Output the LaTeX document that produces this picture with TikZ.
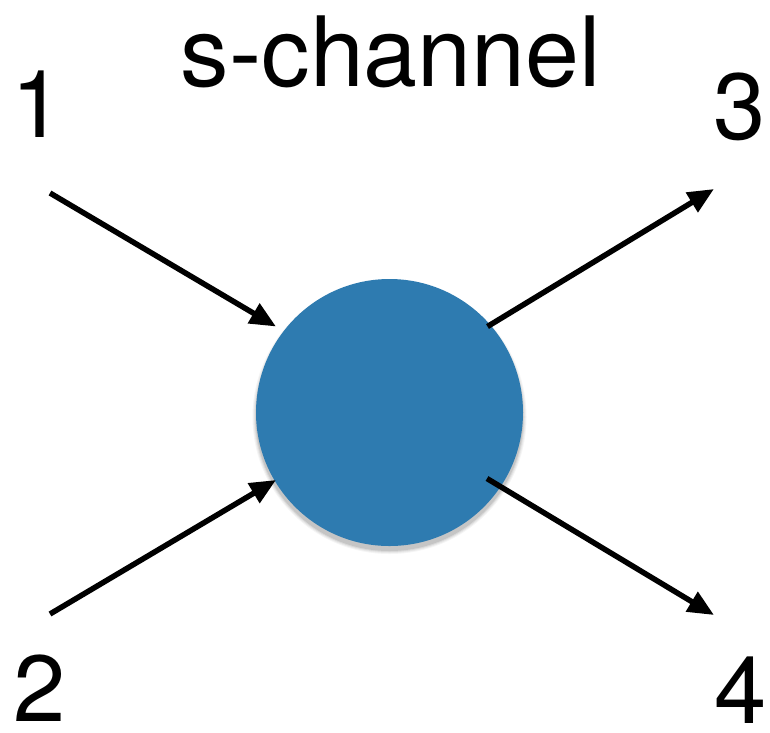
\documentclass[tikz,border=0pt]{standalone}
\usepackage{fontspec}
\setmainfont{TeX Gyre Heros}
\usetikzlibrary{arrows.meta,calc}
\definecolor{blob}{RGB}{46,123,176}
\tikzset{
  lbl/.style={font=\fontsize{94}{94}\selectfont, anchor=base, inner sep=0pt},
  ttl/.style={font=\fontsize{97}{97}\selectfont, anchor=base, inner sep=0pt},
  leg/.style={line width=5.5pt, -{Triangle[length=26pt,width=22pt]}}
}
\begin{document}
\begin{tikzpicture}[x=1pt,y=-1pt]
\useasboundingbox (0,0) rectangle (770,732);
% shadow
\foreach \r/\o in {137/0.04,136/0.05,135/0.07,134/0.09}{
  \fill[black,opacity=\o] (389.5,417) circle (\r pt);
}
\node[circle, fill=blob, minimum size=267pt, inner sep=0pt] (c) at (389.5,412.5) {};
\node[ttl] (t) at (391,86) {s-channel};
\node[lbl] (n1) at (38,137) {1};
\node[lbl] (n2) at (40,721) {2};
\node[lbl] (n3) at (740,139) {3};
\node[lbl] (n4) at (741,723) {4};
\coordinate (a1) at (50,193);
\coordinate (a2) at (50,614);
\coordinate (a3) at (714,189);
\coordinate (a4) at (714,615);
\draw[leg] (a1) -- ($(c.center)+(-113.5,-86)$);
\draw[leg] (a2) -- ($(c.center)+(-113.5,67.5)$);
\draw[leg] ($(c.center)+(98,-86)$) -- (a3);
\draw[leg] ($(c.center)+(97.5,66)$) -- (a4);
\end{tikzpicture}
\end{document}
